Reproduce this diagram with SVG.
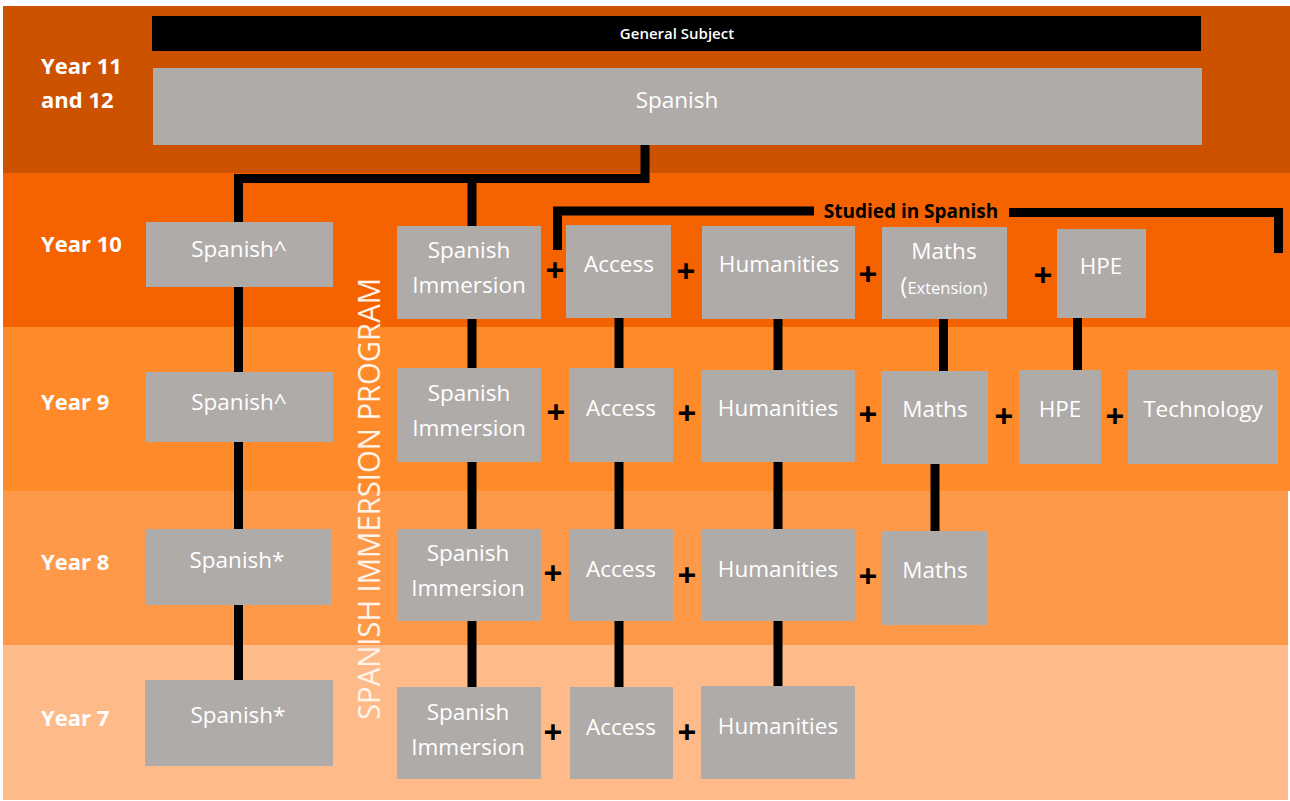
<svg xmlns="http://www.w3.org/2000/svg" width="1290" height="801" viewBox="0 0 1290 801">
<style>
.box{fill:#AFABA9}
.t{font-family:"Open Sans","Liberation Sans",sans-serif;font-size:22.5px;fill:#FFFFFF;text-anchor:middle}
.yr{font-family:"Open Sans","Liberation Sans",sans-serif;font-size:22px;font-weight:bold;fill:#FFFFFF}
.plus{font-family:"Open Sans","Liberation Sans",sans-serif;font-size:33px;font-weight:bold;fill:#000;text-anchor:middle}
.ln{stroke:#000;stroke-width:9;fill:none}
</style>
<rect x="0" y="0" width="1290" height="801" fill="#FFFFFF"/>
<g id="bands">
<rect x="3" y="6" width="1287" height="167" fill="#CC5200"/>
<rect x="3" y="173" width="1287" height="154" fill="#F56300"/>
<rect x="3" y="327" width="1287" height="164" fill="#FE8A2A"/>
<rect x="3" y="491" width="1285" height="154" fill="#FE994A"/>
<rect x="3" y="645" width="1285" height="155" fill="#FEBB89"/>
</g>
<g id="year-labels">
<text class="yr" x="41" y="74">Year 11</text>
<text class="yr" x="41" y="108">and 12</text>
<text class="yr" x="41" y="252">Year 10</text>
<text class="yr" x="41" y="410">Year 9</text>
<text class="yr" x="41" y="570">Year 8</text>
<text class="yr" x="41" y="726">Year 7</text>
</g>
<g id="connectors">
<polyline class="ln" points="645,145 645,178.5 238.5,178.5 238.5,680"/>
<line class="ln" x1="472" y1="178" x2="472" y2="687"/>
<line class="ln" x1="619" y1="318" x2="619" y2="687"/>
<line class="ln" x1="778" y1="319" x2="778" y2="686"/>
<line class="ln" x1="943.5" y1="319" x2="943.5" y2="371"/>
<line class="ln" x1="1077.5" y1="318" x2="1077.5" y2="370"/>
<line class="ln" x1="935" y1="462" x2="935" y2="531"/>
<polyline class="ln" points="557.5,250 557.5,211 814,211"/>
<polyline class="ln" points="1009,212.5 1278.5,212.5 1278.5,253"/>
</g>
<g id="studied-label">
<text x="911" y="218" font-family="'Open Sans','Liberation Sans',sans-serif" font-size="19" font-weight="bold" fill="#000" text-anchor="middle">Studied in Spanish</text>
</g>
<g id="general-subject">
<rect x="152" y="16" width="1049" height="35" fill="#000"/>
<text x="677" y="39" font-family="'Open Sans','Liberation Sans',sans-serif" font-size="15" font-weight="600" fill="#FFFFFF" text-anchor="middle">General Subject</text>
</g>
<g id="y11-spanish"><rect class="box" x="153" y="68" width="1049" height="77"/><text class="t" x="677" y="108">Spanish</text></g>
<g id="y10-spanish"><rect class="box" x="146" y="222" width="187" height="65"/><text class="t" x="239" y="257">Spanish^</text></g>
<g id="y9-spanish"><rect class="box" x="146" y="372" width="187" height="70"/><text class="t" x="239" y="410">Spanish^</text></g>
<g id="y8-spanish"><rect class="box" x="145" y="529" width="187" height="76"/><text class="t" x="237" y="568">Spanish*</text></g>
<g id="y7-spanish"><rect class="box" x="145" y="680" width="188" height="86"/><text class="t" x="238" y="723">Spanish*</text></g>
<g id="program-label">
<text x="0" y="0" transform="translate(380,720) rotate(-90)" font-family="'Open Sans','Liberation Sans',sans-serif" font-size="31" fill="#FFF4EA" textLength="442" lengthAdjust="spacingAndGlyphs">SPANISH IMMERSION PROGRAM</text>
</g>
<g id="y10-immersion"><rect class="box" x="397" y="226" width="144" height="93"/><text class="t" x="469" y="258">Spanish</text><text class="t" x="469" y="293">Immersion</text></g>
<g id="y9-immersion"><rect class="box" x="397" y="368" width="144" height="94"/><text class="t" x="469" y="401">Spanish</text><text class="t" x="469" y="436">Immersion</text></g>
<g id="y8-immersion"><rect class="box" x="397" y="529" width="144" height="92"/><text class="t" x="468" y="561">Spanish</text><text class="t" x="468" y="596">Immersion</text></g>
<g id="y7-immersion"><rect class="box" x="397" y="687" width="144" height="92"/><text class="t" x="468" y="720">Spanish</text><text class="t" x="468" y="755">Immersion</text></g>
<g id="y10-access"><rect class="box" x="566" y="225" width="105" height="93"/><text class="t" x="619" y="272">Access</text></g>
<g id="y9-access"><rect class="box" x="569" y="368" width="104" height="94"/><text class="t" x="621" y="416">Access</text></g>
<g id="y8-access"><rect class="box" x="569" y="529" width="104" height="92"/><text class="t" x="621" y="577">Access</text></g>
<g id="y7-access"><rect class="box" x="570" y="687" width="103" height="92"/><text class="t" x="621" y="735">Access</text></g>
<g id="y10-humanities"><rect class="box" x="702" y="226" width="153" height="93"/><text class="t" x="779" y="272">Humanities</text></g>
<g id="y9-humanities"><rect class="box" x="701" y="370" width="154" height="92"/><text class="t" x="778" y="416">Humanities</text></g>
<g id="y8-humanities"><rect class="box" x="701" y="529" width="154" height="92"/><text class="t" x="778" y="577">Humanities</text></g>
<g id="y7-humanities"><rect class="box" x="701" y="686" width="154" height="93"/><text class="t" x="778" y="734">Humanities</text></g>
<g id="y10-maths"><rect class="box" x="882" y="227" width="125" height="92"/><text class="t" x="944" y="259">Maths</text><text class="t" x="944" y="294"><tspan font-size="23">(</tspan><tspan font-size="16.5">Extension)</tspan></text></g>
<g id="y10-hpe"><rect class="box" x="1057" y="229" width="89" height="89"/><text class="t" x="1101" y="274">HPE</text></g>
<g id="y9-maths"><rect class="box" x="881" y="371" width="107" height="93"/><text class="t" x="935" y="417">Maths</text></g>
<g id="y9-hpe"><rect class="box" x="1019" y="370" width="82" height="94"/><text class="t" x="1060" y="417">HPE</text></g>
<g id="y9-technology"><rect class="box" x="1128" y="370" width="150" height="94"/><text class="t" x="1203" y="417">Technology</text></g>
<g id="y8-maths"><rect class="box" x="882" y="531" width="106" height="94"/><text class="t" x="935" y="578">Maths</text></g>
<g id="plus-signs">
<text class="plus" x="555" y="282">+</text>
<text class="plus" x="686" y="283">+</text>
<text class="plus" x="868" y="286">+</text>
<text class="plus" x="1043" y="287">+</text>
<text class="plus" x="556" y="424">+</text>
<text class="plus" x="687" y="425">+</text>
<text class="plus" x="868" y="426">+</text>
<text class="plus" x="1004" y="428">+</text>
<text class="plus" x="1115" y="428">+</text>
<text class="plus" x="553" y="585">+</text>
<text class="plus" x="687" y="587">+</text>
<text class="plus" x="868" y="588">+</text>
<text class="plus" x="553" y="744">+</text>
<text class="plus" x="687" y="744">+</text>
</g>
</svg>
